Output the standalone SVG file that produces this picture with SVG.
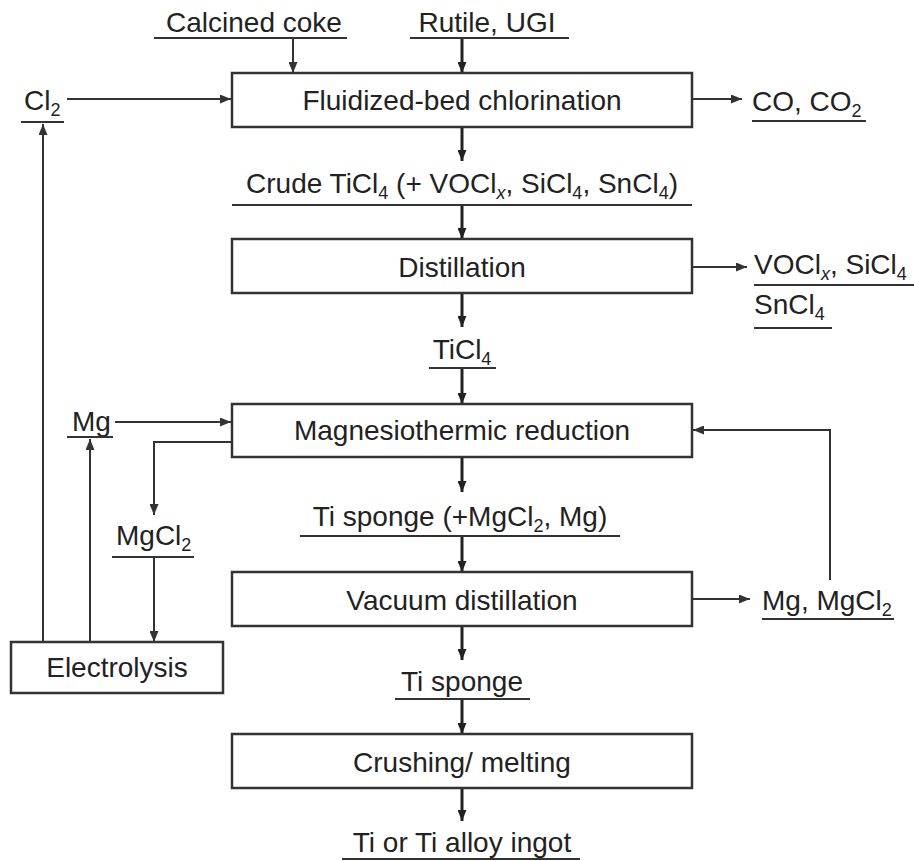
<svg xmlns="http://www.w3.org/2000/svg" width="914" height="861" viewBox="0 0 914 861">
<style>
.box{fill:#fff;stroke:#333;stroke-width:2.5}
.t{font-family:"Liberation Sans",Arial,sans-serif;font-size:28px;fill:#222}
.m{text-anchor:middle}
.s{font-size:18px}
.ul{stroke:#333;stroke-width:2;fill:none}
.c{stroke:#333;stroke-width:2;fill:none;marker-end:url(#ah)}
.k{stroke:#222;stroke-width:3;fill:none;marker-end:url(#ahk)}
</style>
<defs>
<marker id="ah" markerUnits="userSpaceOnUse" markerWidth="11" markerHeight="9" refX="11" refY="4.5" orient="auto"><path d="M0,0 L11,4.5 L0,9 z" fill="#333"/></marker>
<marker id="ahk" markerUnits="userSpaceOnUse" markerWidth="11" markerHeight="9" refX="11" refY="4.5" orient="auto"><path d="M0,0 L11,4.5 L0,9 z" fill="#222"/></marker>
</defs>
<rect width="914" height="861" fill="#fff"/>
<g id="connectors">
<path class="c" d="M293,38 V73"/>
<path class="k" d="M462,38 V73"/>
<path class="c" d="M67,99 H231"/>
<path class="c" d="M693,99 H742"/>
<path class="k" d="M462,127 V161"/>
<path class="k" d="M462,205 V239"/>
<path class="c" d="M692,267 H747"/>
<path class="k" d="M462,293 V327"/>
<path class="k" d="M462,368 V404"/>
<path class="c" d="M115,422 H231"/>
<path class="c" d="M232,442 H154 V515"/>
<path class="c" d="M154,557 V642"/>
<path class="c" d="M90,642 V439"/>
<path class="c" d="M43,642 V124"/>
<path class="k" d="M462,457 V492"/>
<path class="k" d="M462,536 V572"/>
<path class="c" d="M692,599 H750"/>
<path class="c" d="M830,580 V430 H693"/>
<path class="k" d="M462,626 V660"/>
<path class="k" d="M462,699 V734"/>
<path class="k" d="M462,788 V821"/>
</g>
<g id="chlorination"><rect class="box" x="232" y="73" width="460" height="54"/><text class="t m" x="462" y="110">Fluidized-bed chlorination</text></g>
<g id="distillation"><rect class="box" x="232" y="239" width="460" height="54"/><text class="t m" x="462" y="277">Distillation</text></g>
<g id="reduction"><rect class="box" x="232" y="404" width="460" height="53"/><text class="t m" x="462" y="440">Magnesiothermic reduction</text></g>
<g id="vacuum"><rect class="box" x="232" y="572" width="460" height="54"/><text class="t m" x="462" y="610">Vacuum distillation</text></g>
<g id="crushing"><rect class="box" x="232" y="734" width="460" height="54"/><text class="t m" x="462" y="772">Crushing/ melting</text></g>
<g id="electrolysis"><rect class="box" x="11" y="642" width="212" height="51"/><text class="t m" x="117" y="677">Electrolysis</text></g>
<g id="coke"><text class="t m" x="254" y="32">Calcined coke</text><path class="ul" d="M154,38 H347"/></g>
<g id="rutile"><text class="t m" x="487" y="32">Rutile, UGI</text><path class="ul" d="M410,38 H569"/></g>
<g id="cl2"><text class="t" x="24" y="110">Cl<tspan class="s" dy="6">2</tspan></text><path class="ul" d="M21,122 H64"/></g>
<g id="co"><text class="t" x="752" y="111">CO, CO<tspan class="s" dy="6">2</tspan></text><path class="ul" d="M752,121 H866"/></g>
<g id="crude"><text class="t m" x="462" y="193">Crude TiCl<tspan class="s" dy="6">4</tspan><tspan dy="-6"> (+ VOCl</tspan><tspan class="s" dy="6" font-style="italic">x</tspan><tspan dy="-6">, SiCl</tspan><tspan class="s" dy="6">4</tspan><tspan dy="-6">, SnCl</tspan><tspan class="s" dy="6">4</tspan><tspan dy="-6">)</tspan></text><path class="ul" d="M232,205 H692"/></g>
<g id="impurities"><text class="t" x="754" y="274">VOCl<tspan class="s" dy="6" font-style="italic">x</tspan><tspan dy="-6">, SiCl</tspan><tspan class="s" dy="6">4</tspan></text><path class="ul" d="M754,285 H914"/><text class="t" x="754" y="314">SnCl<tspan class="s" dy="6">4</tspan></text><path class="ul" d="M754,328 H832"/></g>
<g id="ticl4"><text class="t m" x="462" y="359">TiCl<tspan class="s" dy="6">4</tspan></text><path class="ul" d="M429,368 H496"/></g>
<g id="mg"><text class="t" x="72" y="431">Mg</text><path class="ul" d="M67,437 H113"/></g>
<g id="mgcl2"><text class="t" x="116" y="545">MgCl<tspan class="s" dy="6">2</tspan></text><path class="ul" d="M112,557 H194"/></g>
<g id="sponge-crude"><text class="t m" x="460" y="526">Ti sponge (+MgCl<tspan class="s" dy="6">2</tspan><tspan dy="-6">, Mg)</tspan></text><path class="ul" d="M300,536 H620"/></g>
<g id="mg-mgcl2"><text class="t" x="762" y="610">Mg, MgCl<tspan class="s" dy="6">2</tspan></text><path class="ul" d="M762,619 H894"/></g>
<g id="sponge"><text class="t m" x="462" y="691">Ti sponge</text><path class="ul" d="M395,699 H530"/></g>
<g id="ingot"><text class="t m" x="462" y="852">Ti or Ti alloy ingot</text><path class="ul" d="M342,859 H580"/></g>
</svg>
